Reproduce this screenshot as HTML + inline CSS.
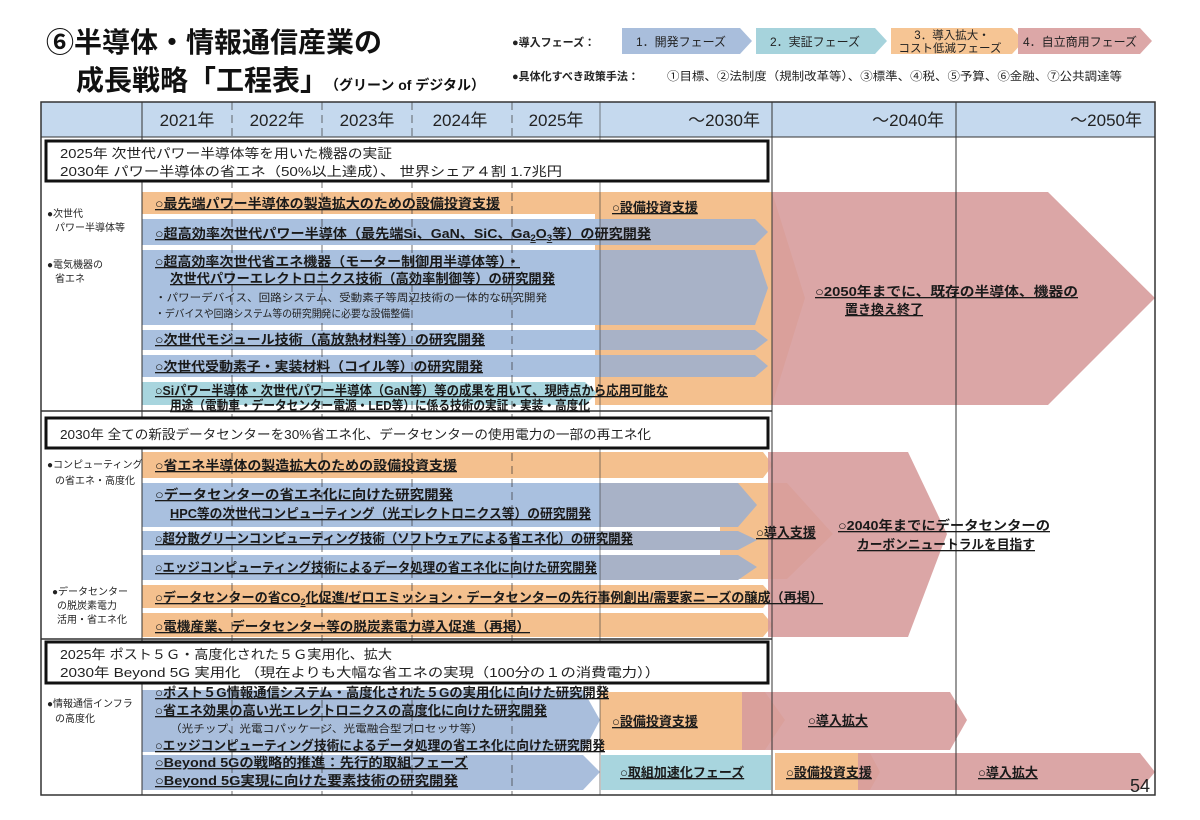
<!DOCTYPE html>
<html><head><meta charset="utf-8"><style>
html,body{margin:0;padding:0;background:#fff;}
svg{display:block;font-family:"Liberation Sans","Noto Sans CJK JP",sans-serif;}
.b{font-weight:bold;font-size:13px;fill:#1a1a1a;text-decoration:underline;}
.n{font-size:10.5px;fill:#222;}
.bx{font-size:13px;fill:#222;}
.lb{font-size:10px;fill:#222;}
.hd{font-size:17px;fill:#222;}
</style></head><body>
<svg width="1200" height="820" viewBox="0 0 1200 820" xmlns="http://www.w3.org/2000/svg">
<defs>
<linearGradient id="bg" gradientUnits="userSpaceOnUse" x1="0" y1="0" x2="1200" y2="0">
<stop offset="0.5" stop-color="#a9c0df"/><stop offset="0.5" stop-color="#a8b2c7"/>
</linearGradient>
</defs>
<rect width="1200" height="820" fill="#fff"/>
<!-- Title -->
<text x="46" y="52" font-size="28" font-weight="bold" fill="#111">⑥半導体・情報通信産業の</text>
<text x="76" y="90" font-size="28" font-weight="bold" fill="#111">成長戦略「工程表」<tspan font-size="14" dx="4">（グリーン of デジタル）</tspan></text>
<!-- Legend -->
<text x="512" y="46" font-size="11" font-weight="bold" fill="#222">●導入フェーズ：</text>
<polygon points="622,28 740,28 752,41 740,54 622,54" fill="#a9bedc"/>
<text x="681" y="46" font-size="12" text-anchor="middle" fill="#222">1．開発フェーズ</text>
<polygon points="756,28 875,28 887,41 875,54 756,54" fill="#a6d3dc"/>
<text x="815" y="46" font-size="12" text-anchor="middle" fill="#222">2．実証フェーズ</text>
<polygon points="891,28 1012,28 1024,41 1012,54 891,54" fill="#f6c594"/>
<text x="952" y="39" font-size="11.5" text-anchor="middle" fill="#222">3．導入拡大・</text>
<text x="950" y="52" font-size="11.5" text-anchor="middle" fill="#222">コスト低減フェーズ</text>
<polygon points="1018,28 1140,28 1152,41 1140,54 1018,54" fill="#dca7a7"/>
<text x="1080" y="46" font-size="12" text-anchor="middle" fill="#222">4．自立商用フェーズ</text>
<text x="512" y="80" font-size="11" font-weight="bold" fill="#222">●具体化すべき政策手法：</text>
<text x="667" y="80" font-size="11.5" fill="#222" textLength="455" lengthAdjust="spacingAndGlyphs">①目標、②法制度（規制改革等）、③標準、④税、⑤予算、⑥金融、⑦公共調達等</text>

<!-- Header -->
<rect x="41" y="102" width="1114" height="35" fill="#c5d9ee"/>
<g class="hd">
<text x="187" y="126" text-anchor="middle">2021年</text>
<text x="277" y="126" text-anchor="middle">2022年</text>
<text x="367" y="126" text-anchor="middle">2023年</text>
<text x="460" y="126" text-anchor="middle">2024年</text>
<text x="556" y="126" text-anchor="middle">2025年</text>
<text x="760" y="126" text-anchor="end">～2030年</text>
<text x="944" y="126" text-anchor="end">～2040年</text>
<text x="1142" y="126" text-anchor="end">～2050年</text>
</g>

<!-- Section 1 shapes -->
<rect x="142" y="192" width="460" height="22" fill="#f4c08e"/>
<polygon points="595,192 772,192 805,298 772,405 595,405" fill="#f4c08e"/>
<polygon points="772,192 1048,192 1155,298 1048,405 772,405" fill="#d79c9c" opacity="0.9"/>
<polygon points="142,219 755,219 768,232 755,245 142,245" fill="url(#bg)"/>
<polygon points="142,250 755,250 768,288 755,325 142,325" fill="url(#bg)"/>
<polygon points="142,330 755,330 768,340 755,350 142,350" fill="url(#bg)"/>
<polygon points="142,355 755,355 768,366 755,377 142,377" fill="url(#bg)"/>
<polygon points="142,382 585,382 597,393 585,405 142,405" fill="#a8d5de"/>

<!-- Section 2 shapes -->
<polygon points="142,452 763,452 773,465 763,478 142,478" fill="#f4c08e"/>
<polygon points="720,483 787,483 833,534 787,579 720,579" fill="#f4c08e"/>
<polygon points="142,483 738,483 757,505 738,527 142,527" fill="url(#bg)"/>
<polygon points="142,531 738,531 757,540 738,550 142,550" fill="url(#bg)"/>
<polygon points="142,555 738,555 757,567 738,580 142,580" fill="url(#bg)"/>
<polygon points="142,585 763,585 773,596 763,608 142,608" fill="#f4c08e"/>
<polygon points="142,613 763,613 773,625 763,637 142,637" fill="#f4c08e"/>
<polygon points="768,452 908,452 947,534 908,637 768,637" fill="#d79c9c" opacity="0.9"/>

<!-- Section 3 shapes -->
<polygon points="600,692 765,692 785,720 765,750 600,750" fill="#f4c08e"/>
<polygon points="742,692 950,692 967,720 950,750 742,750" fill="#d79c9c" opacity="0.9"/>
<polygon points="142,690 583,690 600,720 583,752 142,752" fill="#a9bedc"/>
<polygon points="142,755 583,755 600,772 583,790 142,790" fill="#a9bedc"/>
<rect x="601" y="755" width="170" height="35" fill="#a8d5de"/>
<polygon points="775,753 870,753 880,772 870,790 775,790" fill="#f4c08e"/>
<polygon points="858,753 1140,753 1155,772 1140,790 858,790" fill="#d79c9c" opacity="0.9"/>

<!-- Grid lines -->
<g stroke="#333" stroke-width="1">
<line x1="142" y1="102" x2="142" y2="795"/>
<line x1="600" y1="102" x2="600" y2="795" stroke-opacity="0.6"/>
<line x1="772" y1="102" x2="772" y2="795"/>
<line x1="956" y1="102" x2="956" y2="795"/>
</g>
<g stroke="#333" stroke-width="1" stroke-dasharray="8,5" stroke-opacity="0.7">
<line x1="232" y1="102" x2="232" y2="795"/>
<line x1="322" y1="102" x2="322" y2="795"/>
<line x1="412" y1="102" x2="412" y2="795"/>
<line x1="512" y1="102" x2="512" y2="795"/>
</g>
<rect x="41" y="102" width="1114" height="693" fill="none" stroke="#333" stroke-width="1.5"/>
<line x1="41" y1="137" x2="1155" y2="137" stroke="#333"/>
<line x1="41" y1="411" x2="772" y2="411" stroke="#333" stroke-width="1.5"/>
<line x1="41" y1="639" x2="772" y2="639" stroke="#333" stroke-width="1.5"/>

<!-- Boxes -->
<rect x="46" y="141" width="722" height="40" fill="#fff" stroke="#111" stroke-width="3"/>
<text class="bx" x="60" y="158" textLength="332" lengthAdjust="spacingAndGlyphs">2025年 次世代パワー半導体等を用いた機器の実証</text>
<text class="bx" x="60" y="176" textLength="502" lengthAdjust="spacingAndGlyphs">2030年 パワー半導体の省エネ（50%以上達成）、 世界シェア４割 1.7兆円</text>
<rect x="46" y="418" width="722" height="30" fill="#fff" stroke="#111" stroke-width="3"/>
<text class="bx" x="60" y="439" textLength="591" lengthAdjust="spacingAndGlyphs">2030年 全ての新設データセンターを30%省エネ化、データセンターの使用電力の一部の再エネ化</text>
<rect x="46" y="642" width="722" height="41" fill="#fff" stroke="#111" stroke-width="3"/>
<text class="bx" x="60" y="659" textLength="332" lengthAdjust="spacingAndGlyphs">2025年 ポスト５Ｇ・高度化された５Ｇ実用化、拡大</text>
<text class="bx" x="60" y="677" textLength="600" lengthAdjust="spacingAndGlyphs">2030年 Beyond 5G 実用化 （現在よりも大幅な省エネの実現（100分の１の消費電力））</text>

<!-- Left labels -->
<g class="lb">
<text x="47" y="217">●次世代</text><text x="55" y="231">パワー半導体等</text>
<text x="47" y="268">●電気機器の</text><text x="55" y="282">省エネ</text>
<text x="47" y="468">●コンピューティング</text><text x="55" y="484">の省エネ・高度化</text>
<text x="52" y="595">●データセンター</text><text x="57" y="609">の脱炭素電力</text><text x="57" y="623">活用・省エネ化</text>
<text x="47" y="707">●情報通信インフラ</text><text x="55" y="722">の高度化</text>
</g>

<!-- Section 1 text -->
<text class="b" x="155" y="208" textLength="345" lengthAdjust="spacingAndGlyphs">○最先端パワー半導体の製造拡大のための設備投資支援</text>
<text class="b" x="612" y="212">○設備投資支援</text>
<text class="b" x="155" y="238" textLength="496" lengthAdjust="spacingAndGlyphs">○超高効率次世代パワー半導体（最先端Si、GaN、SiC、Ga<tspan font-size="9" dy="3">2</tspan><tspan dy="-3">O</tspan><tspan font-size="9" dy="3">3</tspan><tspan dy="-3">等）の研究開発</tspan></text>
<text class="b" x="155" y="266" textLength="365" lengthAdjust="spacingAndGlyphs">○超高効率次世代省エネ機器（モーター制御用半導体等）・</text>
<text class="b" x="170" y="283" textLength="385" lengthAdjust="spacingAndGlyphs">次世代パワーエレクトロニクス技術（高効率制御等）の研究開発</text>
<text class="n" x="155" y="301" textLength="392" lengthAdjust="spacingAndGlyphs">・パワーデバイス、回路システム、受動素子等周辺技術の一体的な研究開発</text>
<text class="n" x="155" y="317" textLength="255" lengthAdjust="spacingAndGlyphs">・デバイスや回路システム等の研究開発に必要な設備整備</text>
<text class="b" x="155" y="344" textLength="330" lengthAdjust="spacingAndGlyphs">○次世代モジュール技術（高放熱材料等）の研究開発</text>
<text class="b" x="155" y="371" textLength="328" lengthAdjust="spacingAndGlyphs">○次世代受動素子・実装材料（コイル等）の研究開発</text>
<text class="b" x="155" y="395" textLength="513" lengthAdjust="spacingAndGlyphs">○Siパワー半導体・次世代パワー半導体（GaN等）等の成果を用いて、現時点から応用可能な</text>
<text class="b" x="170" y="410" textLength="420" lengthAdjust="spacingAndGlyphs">用途（電動車・データセンター電源・LED等）に係る技術の実証・実装・高度化</text>
<text class="b" x="815" y="296" textLength="263" lengthAdjust="spacingAndGlyphs">○2050年までに、既存の半導体、機器の</text>
<text class="b" x="845" y="314">置き換え終了</text>

<!-- Section 2 text -->
<text class="b" x="155" y="470" textLength="302" lengthAdjust="spacingAndGlyphs">○省エネ半導体の製造拡大のための設備投資支援</text>
<text class="b" x="155" y="499" textLength="298" lengthAdjust="spacingAndGlyphs">○データセンターの省エネ化に向けた研究開発</text>
<text class="b" x="170" y="518" textLength="421" lengthAdjust="spacingAndGlyphs">HPC等の次世代コンピューティング（光エレクトロニクス等）の研究開発</text>
<text class="b" x="155" y="543" textLength="478" lengthAdjust="spacingAndGlyphs">○超分散グリーンコンピューティング技術（ソフトウェアによる省エネ化）の研究開発</text>
<text class="b" x="155" y="572" textLength="442" lengthAdjust="spacingAndGlyphs">○エッジコンピューティング技術によるデータ処理の省エネ化に向けた研究開発</text>
<text class="b" x="155" y="602" textLength="668" lengthAdjust="spacingAndGlyphs">○データセンターの省CO<tspan font-size="9" dy="3">2</tspan><tspan dy="-3">化促進/ゼロエミッション・データセンターの先行事例創出/需要家ニーズの醸成（再掲）</tspan></text>
<text class="b" x="155" y="631" textLength="375" lengthAdjust="spacingAndGlyphs">○電機産業、データセンター等の脱炭素電力導入促進（再掲）</text>
<text class="b" x="756" y="537">○導入支援</text>
<text class="b" x="838" y="530" textLength="212" lengthAdjust="spacingAndGlyphs">○2040年までにデータセンターの</text>
<text class="b" x="857" y="549" textLength="178" lengthAdjust="spacingAndGlyphs">カーボンニュートラルを目指す</text>

<!-- Section 3 text -->
<text class="b" x="155" y="697" textLength="454" lengthAdjust="spacingAndGlyphs">○ポスト５G情報通信システム・高度化された５Gの実用化に向けた研究開発</text>
<text class="b" x="155" y="715" textLength="392" lengthAdjust="spacingAndGlyphs">○省エネ効果の高い光エレクトロニクスの高度化に向けた研究開発</text>
<text class="n" x="170" y="732" font-size="11" textLength="313" lengthAdjust="spacingAndGlyphs">（光チップ、光電コパッケージ、光電融合型プロセッサ等）</text>
<text class="b" x="155" y="750" textLength="450" lengthAdjust="spacingAndGlyphs">○エッジコンピューティング技術によるデータ処理の省エネ化に向けた研究開発</text>
<text class="b" x="155" y="767" textLength="313" lengthAdjust="spacingAndGlyphs">○Beyond 5Gの戦略的推進：先行的取組フェーズ</text>
<text class="b" x="155" y="785" textLength="303" lengthAdjust="spacingAndGlyphs">○Beyond 5G実現に向けた要素技術の研究開発</text>
<text class="b" x="612" y="726">○設備投資支援</text>
<text class="b" x="808" y="725">○導入拡大</text>
<text class="b" x="620" y="777">○取組加速化フェーズ</text>
<text class="b" x="786" y="777">○設備投資支援</text>
<text class="b" x="978" y="777">○導入拡大</text>
<text x="1130" y="792" font-size="18" fill="#222">54</text>
</svg>
</body></html>
